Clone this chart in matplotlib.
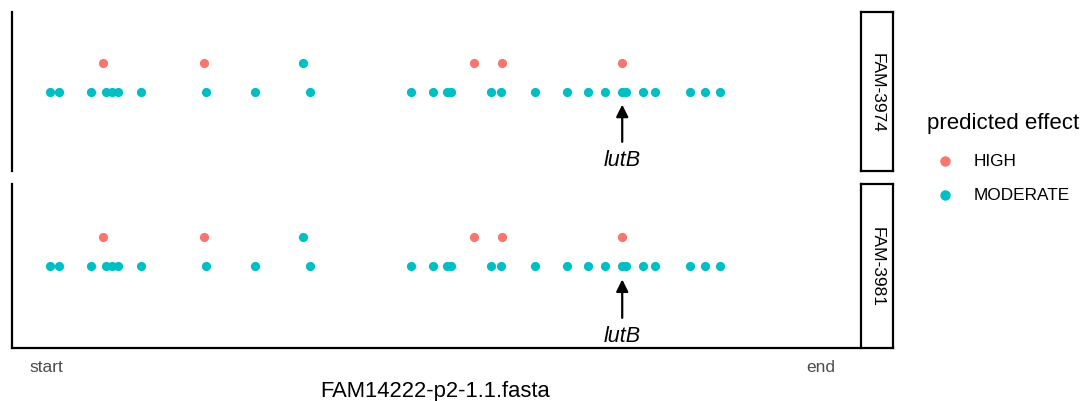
import matplotlib
matplotlib.use("Agg")
import matplotlib.pyplot as plt

plt.rcParams['font.family'] = ['Liberation Sans', 'DejaVu Sans']

# variant positions along the contig (scaled so start = 0, end = 1000)
moderate_pos = [5, 16, 57, 77, 84, 93, 122, 206, 270, 341, 471, 499, 517, 523,
                575, 587, 631, 673, 700, 722, 744, 749, 771, 786, 831, 851, 870]
moderate_lvl = [0] * len(moderate_pos)
upper_moderate_pos = [331]
high_pos = [73, 204, 552, 589, 744]
samples = ['FAM-3974', 'FAM-3981']
gene_name = 'lutB'
gene_pos = 744
contig = 'FAM14222-p2-1.1.fasta'
genome_start, genome_end = 0, 1000

col_high = '#F8766D'
col_mod = '#00BFC4'

fig = plt.figure(figsize=(10.81, 4.02), dpi=100)

W, H = 1081, 402
panels = [(13.3, 172.3), (185, 349.3)]
x0, x1 = 11.7, 859
span = genome_end - genome_start
pad = 0.045 * span

for i, (s, (top, bot)) in enumerate(zip(samples, panels)):
    ax = fig.add_axes([x0 / W, 1 - bot / H, (x1 - x0) / W, (bot - top) / H])
    ax.scatter(moderate_pos, moderate_lvl, s=44, color=col_mod, lw=0, zorder=3)
    ax.scatter(upper_moderate_pos, [1] * len(upper_moderate_pos), s=44, color=col_mod, lw=0, zorder=3)
    ax.scatter(high_pos, [1] * len(high_pos), s=44, color=col_high, lw=0, zorder=3)
    ax.annotate('', xy=(gene_pos, -0.45), xytext=(gene_pos, -1.75),
                arrowprops=dict(arrowstyle='-|>', color='black', lw=1.6,
                                mutation_scale=18, shrinkA=0, shrinkB=0))
    ax.text(gene_pos, -2.35, gene_name, style='italic', fontsize=15.5,
            ha='center', va='center')
    ax.set_xlim(genome_start - pad, genome_end + 0.05 * span)
    ax.set_ylim(-2.78, 2.78)
    ax.set_yticks([])
    for sp in ['top', 'right']:
        ax.spines[sp].set_visible(False)
    ax.spines['left'].set_linewidth(1.6)
    if i == 0:
        ax.spines['bottom'].set_visible(False)
        ax.set_xticks([])
    else:
        ax.spines['bottom'].set_linewidth(1.6)
        ax.set_xticks([genome_start, genome_end])
        ax.set_xticklabels(['start', 'end'], color='#4d4d4d', fontsize=12.5)
        ax.tick_params(axis='x', length=0, pad=8)
        ax.set_xlabel(contig, fontsize=15.8, labelpad=4)

    # facet strip on the right
    st = fig.add_axes([860.7 / W, 1 - bot / H, 32.6 / W, (bot - top) / H])
    st.set_xticks([])
    st.set_yticks([])
    for sp in st.spines.values():
        sp.set_linewidth(1.6)
    st.text(0.5, 0.5, s, rotation=270, ha='center', va='center',
            fontsize=12.5, transform=st.transAxes)

# legend
fig.text(927 / W, 1 - 123 / H, 'predicted effect', fontsize=16, va='center')
for lab, c, yy in [('HIGH', col_high, 162), ('MODERATE', col_mod, 196)]:
    fig.lines.append(plt.Line2D([945 / W], [1 - yy / H], marker='o', ms=6.5,
                                color=c, lw=0, transform=fig.transFigure))
    fig.text(974 / W, 1 - yy / H, lab, fontsize=12.4, va='center')

fig.savefig('out.png', dpi=100)
